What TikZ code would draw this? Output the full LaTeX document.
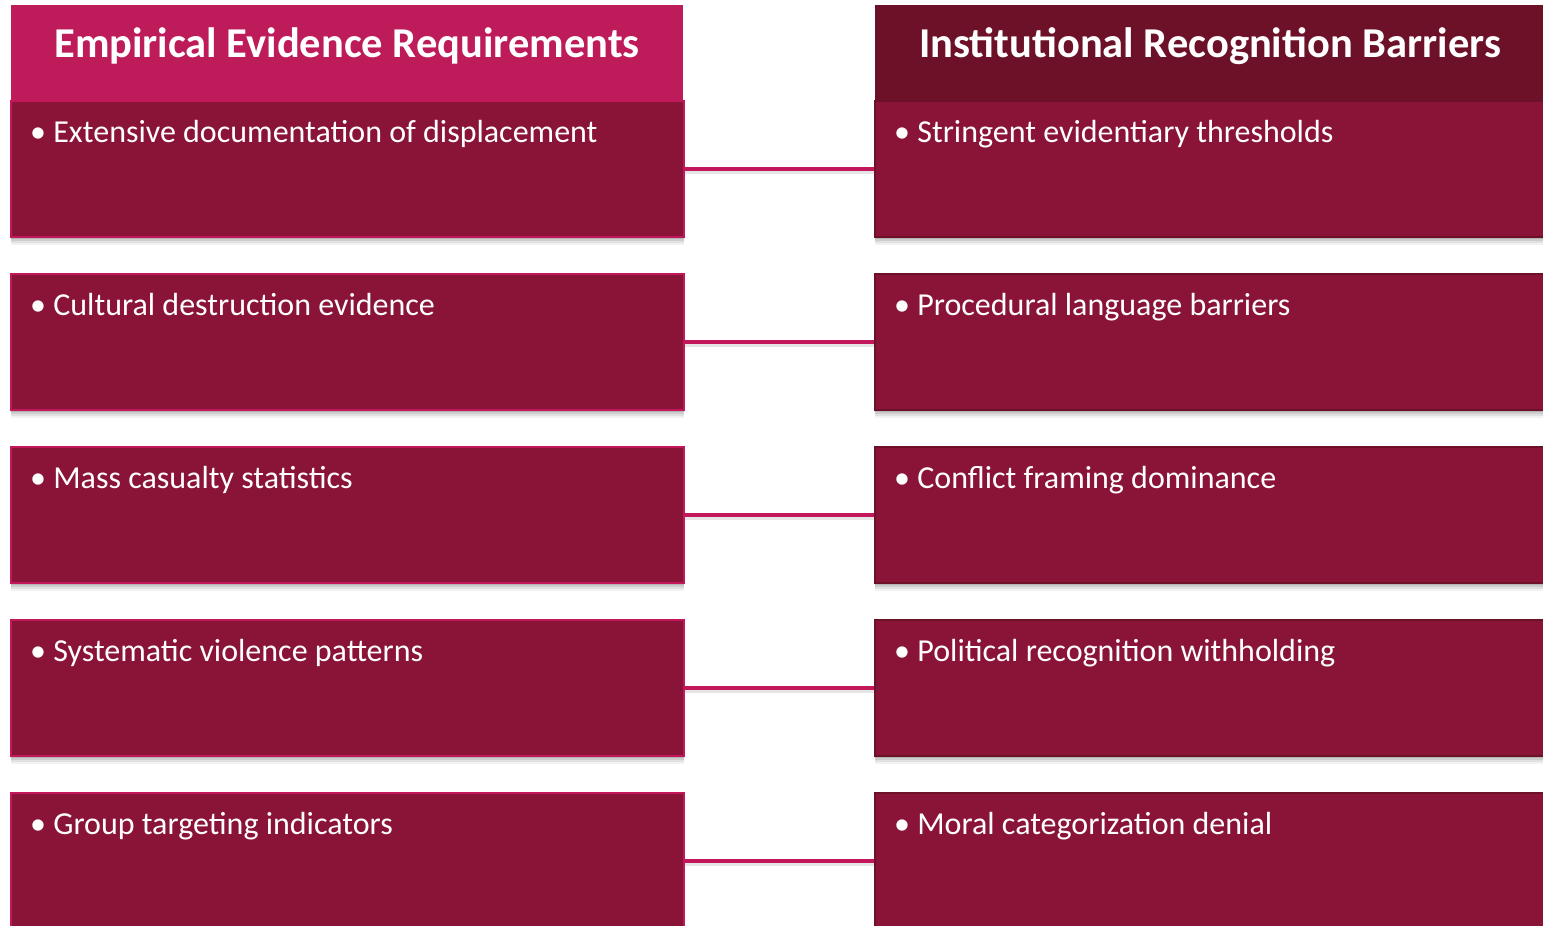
\documentclass[tikz,border=0pt]{standalone}
\usepackage{fontspec}
\setmainfont{Carlito}
\usetikzlibrary{shadows,calc}
\definecolor{boxfill}{HTML}{8A1437}
\definecolor{pinkline}{HTML}{C2185B}
\definecolor{headleft}{HTML}{BE1B5B}
\definecolor{headright}{HTML}{6D1129}
\definecolor{rightedge}{HTML}{6D1129}
\tikzset{
  softshadow/.style={
    general shadow={fill=black, opacity=0.05, shadow yshift=-8pt, shadow xshift=0pt},
    general shadow={fill=black, opacity=0.07, shadow yshift=-6pt, shadow xshift=0pt},
    general shadow={fill=black, opacity=0.09, shadow yshift=-4pt, shadow xshift=0pt},
    general shadow={fill=black, opacity=0.12, shadow yshift=-2pt, shadow xshift=0pt}},
  leftbox/.style={draw=pinkline, line width=2pt, fill=boxfill, minimum width=673pt, minimum height=136pt, inner sep=0pt, anchor=north west, softshadow},
  rightbox/.style={draw=rightedge, line width=2pt, fill=boxfill, minimum width=680pt, minimum height=136pt, inner sep=0pt, anchor=north west, softshadow},
  headbox/.style={minimum width=672pt, minimum height=95pt, inner sep=0pt, anchor=north west, softshadow},
  headtext/.style={text=white, font=\bfseries\fontsize{42.5}{46}\selectfont, anchor=base, inner sep=0pt},
  itemtext/.style={text=white, font=\fontsize{32}{36}\selectfont, anchor=base west, inner sep=0pt},
  link/.style={draw=pinkline, line width=4.5pt,
    preaction={draw=black, opacity=0.1, line width=4.5pt, transform canvas={yshift=-3pt}}}
}
\begin{document}
\begin{tikzpicture}[x=1pt,y=-1pt]
\useasboundingbox (0,0) rectangle (1543,926);
\begin{scope}
\clip (0,0) rectangle (1543,926);
% column headers
\node[headbox, fill=headleft] (hl) at (11,5) {};
\node[headbox, fill=headright, minimum width=680pt] (hr) at (875,5) {};
\node[headtext] (hlt) at (347,57) {Empirical Evidence Requirements};
\node[headtext] (hrt) at (1210,57) {Institutional Recognition Barriers};
% rows of paired boxes
\foreach \i/\y/\lt/\rt in {
  1/100/Extensive documentation of displacement/Stringent evidentiary thresholds,
  2/273/Cultural destruction evidence/Procedural language barriers,
  3/446/Mass casualty statistics/Conflict framing dominance,
  4/619/Systematic violence patterns/Political recognition withholding,
  5/792/Group targeting indicators/Moral categorization denial} {
  \node[leftbox] (l\i) at (10,\y) {};
  \node[rightbox] (r\i) at (874,\y) {};
  \node[itemtext] (lt\i) at ($(l\i.north west)+(20,42)$) {• \lt};
  \node[itemtext] (rt\i) at ($(r\i.north west)+(20,42)$) {• \rt};
  \draw[link] (l\i.east) -- ($(r\i.north west)!0.5!(r\i.south west)$);
}
\end{scope}
\end{tikzpicture}
\end{document}
